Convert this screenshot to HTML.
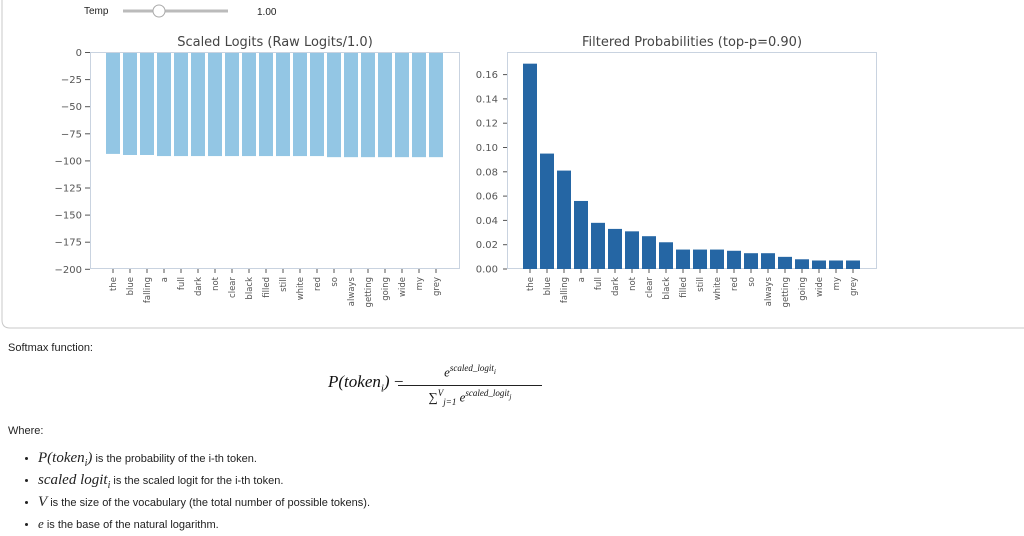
<!DOCTYPE html>
<html><head><meta charset="utf-8"><style>
body{margin:0;width:1024px;height:534px;background:#fff;overflow:hidden;font-family:"Liberation Sans",sans-serif}
li{height:22px;line-height:22px}
li i{line-height:0}
</style></head><body>
<svg width="1024" height="534" xmlns="http://www.w3.org/2000/svg" style="position:absolute;left:0;top:0">
<path d="M2 0 V320 Q2 328 10 328 H1024" fill="none" stroke="#c8c8c8" stroke-width="1"/>
<text x="84" y="14" font-size="10" fill="#222">Temp</text>
<line x1="123" y1="11" x2="228" y2="11" stroke="#bbb" stroke-width="3"/>
<circle cx="159" cy="11" r="6" fill="#fff" stroke="#aaa"/>
<text x="257" y="15" font-size="10" fill="#222">1.00</text>
<g font-family="DejaVu Sans, sans-serif" fill="#555">
<text x="275" y="46" font-size="13" text-anchor="middle" fill="#444">Scaled Logits (Raw Logits/1.0)</text>
<text x="692" y="46" font-size="13" text-anchor="middle" fill="#444">Filtered Probabilities (top-p=0.90)</text>
</g>
<rect x="90.5" y="52.5" width="369" height="216" fill="none" stroke="#c9d3e0"/>
<rect x="507.5" y="52.5" width="369" height="216" fill="none" stroke="#c9d3e0"/>
<g id="L" fill="#93c6e4"></g>
<g id="R" fill="#2566a4"></g>
<g id="T" font-family="DejaVu Sans, sans-serif" font-size="10" fill="#555"></g>
</svg>
<script>
var words=["the","blue","falling","a","full","dark","not","clear","black","filled","still","white","red","so","always","getting","going","wide","my","grey"];
var lv=[93,94,94,95,95,95,95,95,95,95,95,95,95,96,96,96,96,96,96,96];
var pv=[.169,.095,.081,.056,.038,.033,.031,.027,.022,.016,.016,.016,.015,.013,.013,.010,.008,.007,.007,.007];
var ns="http://www.w3.org/2000/svg";
function el(p,t,a,txt){var e=document.createElementNS(ns,t);for(var k in a)e.setAttribute(k,a[k]);if(txt!=null)e.textContent=txt;document.getElementById(p).appendChild(e);}
for(var i=0;i<20;i++){
 var x=106+17*i;
 el("L","rect",{x:x,y:53,width:14,height:lv[i]*1.085});
 el("T","line",{x1:x+7,y1:269,x2:x+7,y2:273,stroke:"#555"});
 el("T","text",{transform:"translate("+(x+10)+",277) rotate(-90)","text-anchor":"end","font-size":"8.5"},words[i]);
 var xr=523+17*i,h=pv[i]/0.02*24.3;
 el("R","rect",{x:xr,y:269-h,width:14,height:h});
 el("T","line",{x1:xr+7,y1:269,x2:xr+7,y2:273,stroke:"#555"});
 el("T","text",{transform:"translate("+(xr+10)+",277) rotate(-90)","text-anchor":"end","font-size":"8.5"},words[i]);
}
for(var j=0;j<=8;j++){
 var y=52.5+j*27.1;
 el("T","line",{x1:85,y1:y,x2:90,y2:y,stroke:"#555"});
 el("T","text",{x:82,y:y+3.5,"text-anchor":"end"},j==0?"0":"\u2212"+(j*25));
 var y2=269-j*24.3;
 el("T","line",{x1:503,y1:y2,x2:507,y2:y2,stroke:"#555"});
 el("T","text",{x:498,y:y2+3.5,"text-anchor":"end"},(j*0.02).toFixed(2));
}
</script>
<div style="position:absolute;left:8px;top:342px;font-size:11px;color:#222">Softmax function:</div>
<div style="position:absolute;left:328px;top:372px;font-family:'Liberation Serif',serif;font-size:17px;font-style:italic;color:#111">P(token<sub style="font-size:11px">i</sub>) <span style="font-style:normal">−</span></div>
<div style="position:absolute;left:398px;top:363px;width:144px;text-align:center;font-family:'Liberation Serif',serif;font-style:italic;color:#111">
<div style="font-size:13px;height:22px;border-bottom:1px solid #222">e<sup style="font-size:9px">scaled_logit<sub>i</sub></sup></div>
<div style="font-size:13px;padding-top:2px"><span style="font-style:normal">∑</span><sup style="font-size:9px">V</sup><sub style="font-size:9px">j=1</sub> e<sup style="font-size:9px">scaled_logit<sub>j</sub></sup></div>
</div>
<div style="position:absolute;left:8px;top:425px;font-size:11px;color:#222">Where:</div>
<ul style="position:absolute;left:0;top:448px;margin:0;padding-left:38px;font-size:11px;color:#222">
<li><i style="font-family:'Liberation Serif',serif;font-size:15px">P(token<sub style="font-size:10px;line-height:0">i</sub>)</i> is the probability of the i-th token.</li>
<li><i style="font-family:'Liberation Serif',serif;font-size:15px">scaled logit<sub style="font-size:10px;line-height:0">i</sub></i> is the scaled logit for the i-th token.</li>
<li><i style="font-family:'Liberation Serif',serif;font-size:15px">V</i> is the size of the vocabulary (the total number of possible tokens).</li>
<li><i style="font-family:'Liberation Serif',serif;font-size:13px">e</i> is the base of the natural logarithm.</li>
</ul>
</body></html>
